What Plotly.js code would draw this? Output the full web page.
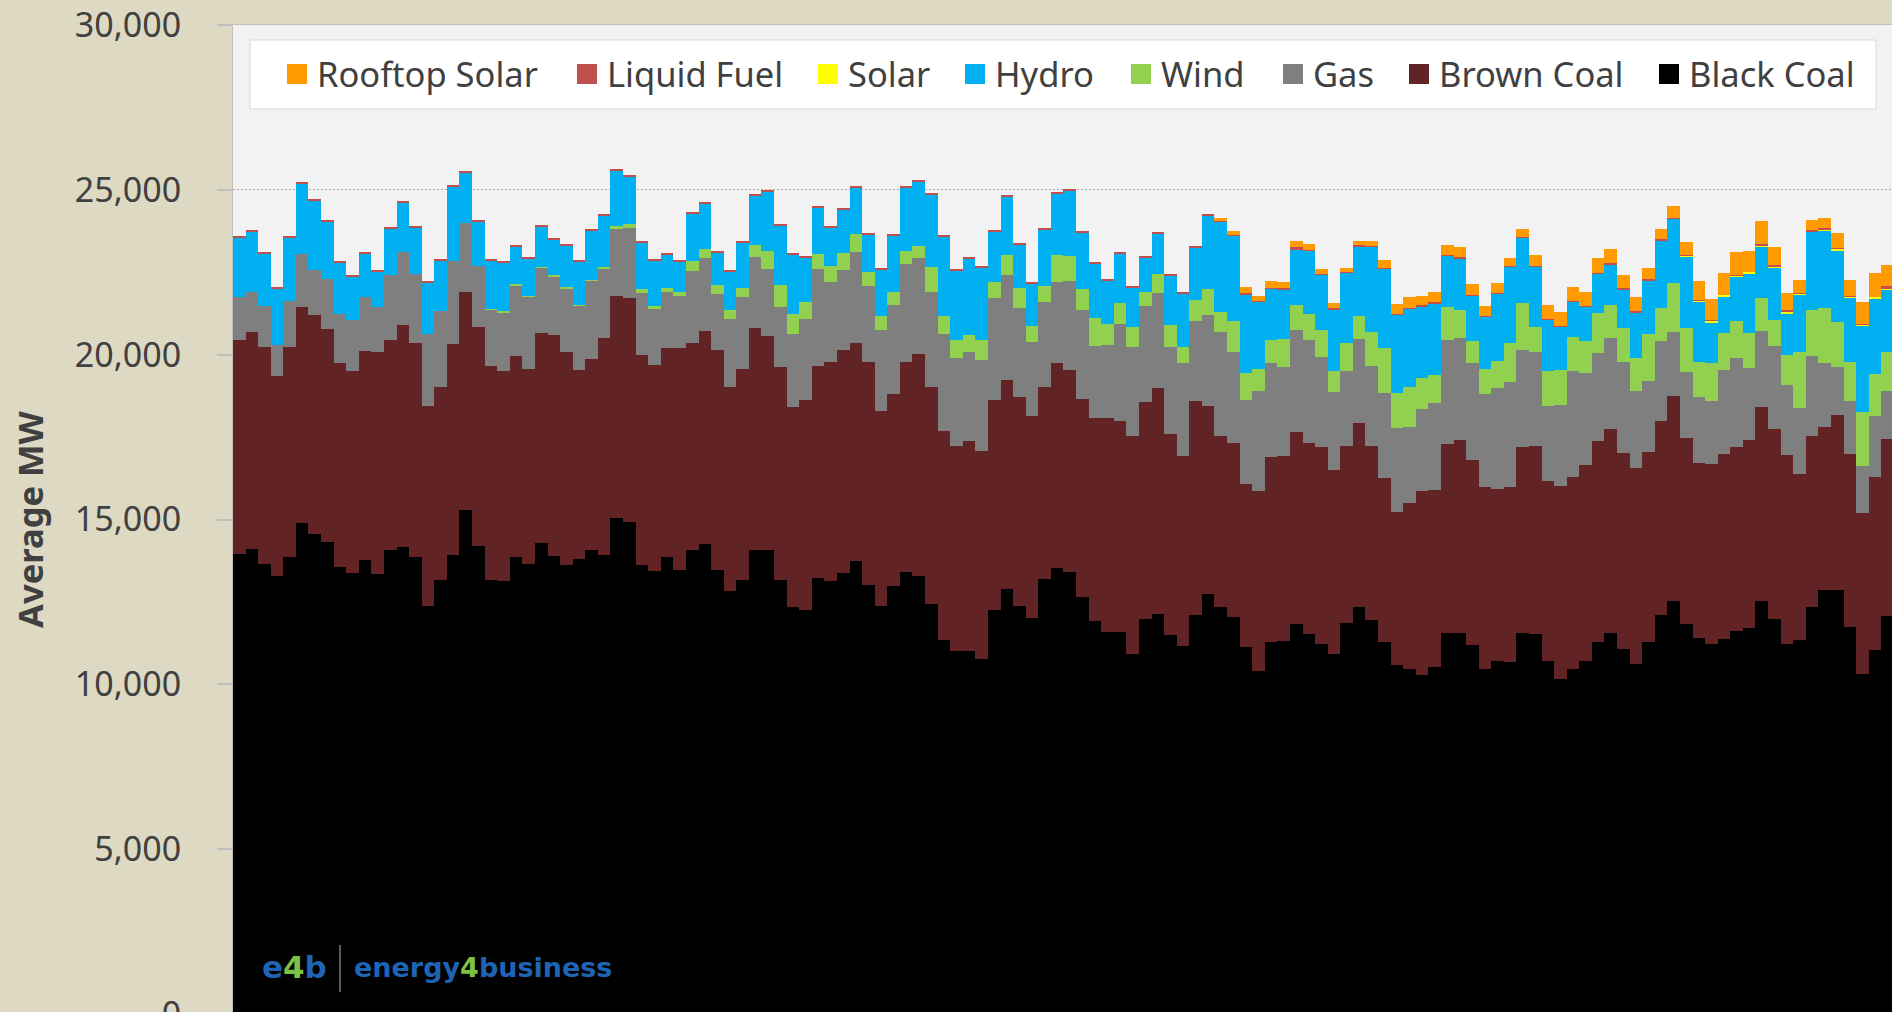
<!DOCTYPE html>
<html>
<head>
<meta charset="utf-8">
<script src="https://cdn.plot.ly/plotly-3.0.1.min.js"></script>
<style>
html,body{margin:0;padding:0;background:#DDD9C3;overflow:hidden;width:1892px;height:1012px}
#chart{width:1892px;height:1014px}
</style>
</head>
<body>
<div id="chart"></div>
<script>
// ---------- categories (monthly, Jan 2006 - Dec 2016) ----------
const years = [2006,2007,2008,2009,2010,2011,2012,2013,2014,2015,2016];
const monthNames = ['Jan','Feb','Mar','Apr','May','Jun','Jul','Aug','Sep','Oct','Nov','Dec'];
const months = [];
years.forEach(y => monthNames.forEach(m => months.push(m + ' ' + y)));

// ---------- series values, average MW ----------
const blackCoal = [
13950,14110,13650,13280,13850,14900,14560,14330,13550,13390,13760,13350,
14060,14180,13850,12390,13150,13910,15280,14190,13150,13130,13870,13650,
14290,13880,13620,13800,14060,13920,15060,14920,13620,13430,13850,13470,
14060,14260,13470,12820,13150,14060,14060,13160,12340,12240,13240,13130,
13390,13730,13010,12370,12980,13420,13290,12440,11340,11020,11020,10780,
12240,12890,12370,12000,13200,13540,13400,12640,11920,11600,11600,10930,
11980,12130,11490,11160,12100,12750,12360,12040,11130,10390,11290,11320,
11830,11530,11220,10930,11860,12360,11940,11270,10580,10470,10280,10540,
11570,11570,11190,10470,10720,10690,11570,11540,10720,10170,10470,10720,
11270,11570,11070,10620,11290,12090,12540,11830,11420,11220,11370,11630,
11720,12540,11980,11220,11330,12340,12850,12850,11750,10320,11030,12060];

const brownCoal = [
6490,6570,6580,6080,6380,6550,6640,6460,6190,6110,6340,6730,
6380,6720,6500,6050,5860,6400,6610,6640,6510,6370,6080,5930,
6380,6730,6460,5730,5820,6580,6720,6800,6380,6270,6340,6720,
6280,6450,6680,6200,6430,6740,6500,6460,6080,6400,6430,6640,
6750,6610,6760,5930,5840,6350,6740,6590,6330,6220,6350,6310,
6400,6340,6350,6150,5830,6200,6150,6030,6150,6490,6380,6600,
6580,6850,6110,5770,6480,5700,5170,5270,4960,5470,5600,5600,
5810,5780,5970,5570,5370,5580,5290,4980,4640,5040,5570,5360,
5730,5840,5620,5510,5210,5290,5630,5690,5440,5850,5810,5930,
6110,6190,5960,5930,5750,5900,6200,5630,5280,5470,5630,5560,
5690,5860,5780,5730,5060,5190,4950,5320,5250,4890,5260,5390];

const gas = [
1300,1210,1250,940,1390,1590,1370,1510,1500,1550,1650,1380,
1980,2200,2110,2190,2310,2540,2090,1850,1710,1790,2150,2190,
1980,1770,1940,1950,2360,2120,2030,2120,1860,1680,1720,1600,
2200,2210,1690,2050,2170,2170,2050,1830,2200,2430,2920,2440,
2440,2780,2320,2440,2700,2970,2890,2880,2950,2670,2710,2760,
3080,3200,2690,2240,2580,2470,2670,2700,2190,2210,2960,2710,
2930,2880,2630,2820,2440,2760,3150,2780,2550,3040,2870,2710,
3110,3140,2740,2360,2280,2550,2430,2580,2550,2310,2510,2620,
3150,3090,2940,2840,3050,3190,2950,2850,2290,2460,3220,2790,
2660,2740,2740,2360,2170,2430,1960,2020,2020,1900,2540,2700,
2180,2310,2500,2140,1980,2430,1940,1460,1590,1420,1860,1440];

const wind = [
0,0,0,0,0,0,0,0,0,0,0,0,
0,0,0,0,0,0,0,0,20,20,30,20,
20,50,30,30,30,50,100,110,140,100,100,100,
290,300,280,290,260,360,520,660,600,530,460,480,
490,530,410,440,380,390,370,750,550,550,520,600,
490,600,600,480,480,820,780,610,850,640,640,600,
410,600,660,490,650,790,610,930,790,680,680,860,
760,770,810,630,830,680,1020,1370,1080,1190,920,870,
990,860,660,760,820,1170,1410,760,1050,1050,1030,980,
1210,1010,1030,990,1410,1000,1460,1330,1050,1150,1110,1130,
1080,1000,800,900,1720,1400,1670,1360,1180,1630,1250,1190];

const hydro = [
1800,1850,1590,1700,1940,2160,2120,1750,1560,1320,1320,1070,
1410,1520,1410,1550,1540,2240,1550,1360,1460,1490,1140,1140,
1220,1050,1250,1320,1510,1560,1670,1440,1410,1390,1020,950,
1450,1370,990,1170,1400,1490,1820,1800,1810,1340,1410,1180,
1320,1420,1140,1390,1710,1930,1970,2200,2400,2080,2330,2180,
1540,1760,1320,1290,1710,1860,1970,1730,1670,1310,1490,1210,
1060,1210,1520,1630,1590,2230,2740,2580,2410,2030,1560,1500,
1680,1930,1690,1890,2140,2120,2600,2400,2360,2380,2190,2170,
1560,1570,1380,1570,2050,2330,1980,1830,1560,1310,1070,1040,
1200,1240,1180,1370,1640,2050,1970,2170,1830,1250,1120,1340,
1800,1560,1570,1270,1720,2370,2350,2170,1950,2620,2300,1910];

const solar = [
0,0,0,0,0,0,0,0,0,0,0,0,
0,0,0,0,0,0,0,0,0,0,0,0,
0,0,0,0,0,0,0,0,0,0,0,0,
0,0,0,0,0,0,0,0,0,0,0,0,
0,0,0,0,0,0,0,0,0,0,0,0,
0,0,0,0,0,0,0,0,0,0,0,0,
0,0,0,0,0,0,0,0,0,0,0,0,
0,0,0,0,0,0,0,0,0,0,0,0,
0,0,0,0,0,0,0,0,0,0,0,0,
0,0,0,0,0,0,0,40,40,40,40,50,
40,40,50,50,40,20,30,60,50,50,50,30];

const liquidFuel = [
30,30,30,30,30,30,30,30,30,30,30,30,
30,30,30,30,30,30,30,30,30,30,30,30,
30,30,30,30,30,30,30,30,30,30,30,30,
30,30,30,30,30,30,30,30,30,30,30,30,
30,30,30,30,30,30,30,30,30,30,30,30,
30,30,30,30,30,30,30,30,30,30,30,30,
30,30,30,30,30,30,30,30,30,30,30,30,
70,30,30,30,30,50,30,30,30,30,30,30,
30,30,30,30,30,30,30,30,30,30,30,30,
40,40,40,40,30,30,30,10,10,10,10,10,
10,50,30,60,10,40,50,10,10,10,10,50];

const rooftopSolar = [
0,0,0,0,0,0,0,0,0,0,0,0,
0,0,0,0,0,0,0,0,0,0,0,0,
0,0,0,0,0,0,0,0,0,0,0,0,
0,0,0,0,0,0,0,0,0,0,0,0,
0,0,0,0,0,0,0,0,0,0,0,0,
0,0,0,0,0,0,0,0,0,0,0,0,
0,0,0,0,0,0,80,130,190,140,200,190,
180,170,150,150,110,100,140,230,310,320,280,320,
310,320,320,300,280,230,230,310,430,410,430,410,
450,410,410,430,350,310,350,390,580,650,670,690,
630,680,570,490,420,280,310,470,500,660,730,660];

// ---------- series order (stack bottom -> top) ----------
const seriesNames = ['Black Coal','Brown Coal','Gas','Wind','Hydro','Solar','Liquid Fuel','Rooftop Solar'];
const seriesData  = [blackCoal, brownCoal, gas, wind, hydro, solar, liquidFuel, rooftopSolar];
const yTickVals = [0,5000,10000,15000,20000,25000,30000];

// ---------- styles ----------
const seriesColors = ['#000000','#612323','#7F7F7F','#92D050','#00B0F0','#FFFF00','#C0504D','#FF9A00'];
const W = 1892, H = 1014, ML = 233, MT = 25, MR = 0, MB = 0;
const PW = W - ML - MR, PH = H - MT - MB;
const fx = px => (px - ML) / PW;
const fy = py => (H - MB - py) / PH;
const textColor = '#404040';
const mainFont = 'Noto Sans, Open Sans, sans-serif';

const traces = seriesNames.map((name, i) => ({
  type: 'bar',
  name: name,
  x: months,
  y: seriesData[i],
  marker: {color: seriesColors[i], line: {width: 0}},
  showlegend: false,
  hovertemplate: '%{x}<br>' + name + ': %{y:,} MW<extra></extra>'
}));

// ---------- hand-placed legend (top to bottom of stack, left to right) ----------
const legendOrder = [7,6,5,4,3,2,1,0];
const legendSquareLeftPx = [287,577,818,965,1131,1283,1409,1659];
const legendBox = {x0: 250, x1: 1876, y0: 40, y1: 109};
const legendMidY = 74, legendSq = 20;

const shapes = [{
  type: 'rect', xref: 'paper', yref: 'paper', layer: 'above',
  x0: fx(legendBox.x0), x1: fx(legendBox.x1), y0: fy(legendBox.y1), y1: fy(legendBox.y0),
  fillcolor: '#FFFFFF', line: {color: '#D9D9D9', width: 1}
}];
const annotations = [];
legendOrder.forEach((si, k) => {
  const left = legendSquareLeftPx[k];
  shapes.push({
    type: 'rect', xref: 'paper', yref: 'paper', layer: 'above',
    x0: fx(left), x1: fx(left + legendSq),
    y0: fy(legendMidY + legendSq / 2), y1: fy(legendMidY - legendSq / 2),
    fillcolor: seriesColors[si], line: {width: 0}
  });
  annotations.push({
    xref: 'paper', yref: 'paper', x: fx(left + legendSq + 8), y: fy(legendMidY),
    xanchor: 'left', yanchor: 'middle', showarrow: false,
    text: seriesNames[si], font: {family: mainFont, size: 34.5, color: textColor}
  });
});

// ---------- watermark ----------
const logoBlue = '#1F64B4', logoGreen = '#7DC242';
annotations.push({
  xref: 'paper', yref: 'paper', x: fx(260), y: fy(967), xanchor: 'left', yanchor: 'middle', showarrow: false,
  text: 'e<span style="color:' + logoGreen + '">4</span>b',
  font: {family: 'DejaVu Sans, sans-serif', size: 31, color: logoBlue, weight: 'bold'}
});
annotations.push({
  xref: 'paper', yref: 'paper', x: fx(352), y: fy(967), xanchor: 'left', yanchor: 'middle', showarrow: false,
  text: 'energy<span style="color:' + logoGreen + '">4</span>business',
  font: {family: 'DejaVu Sans, sans-serif', size: 27, color: logoBlue, weight: 'bold'}
});
shapes.push({
  type: 'line', xref: 'paper', yref: 'paper', layer: 'above',
  x0: fx(340), x1: fx(340), y0: fy(992), y1: fy(945),
  line: {color: '#5A5A5A', width: 2}
});

const layout = {
  width: W, height: H,
  margin: {l: ML, r: MR, t: MT, b: MB, pad: 0},
  paper_bgcolor: '#DDD9C3',
  plot_bgcolor: '#F2F2F2',
  barmode: 'stack',
  bargap: 0,
  showlegend: false,
  xaxis: {
    type: 'category',
    range: [-0.5, 131.35],
    showticklabels: false, ticks: '', showgrid: false, zeroline: false,
    showline: true, mirror: true, linecolor: '#BFBFBF', linewidth: 1
  },
  yaxis: {
    range: [0, 30000],
    tickvals: yTickVals,
    tickformat: ',d',
    ticks: 'outside', ticklen: 15, tickwidth: 1.5, tickcolor: '#BFBFBF',
    ticklabelstandoff: 29,
    ticklabeloverflow: 'allow',
    tickfont: {family: mainFont, size: 34, color: textColor},
    showgrid: true, gridcolor: '#ABABAB', gridwidth: 1, griddash: '2px,2px',
    zeroline: false,
    showline: true, linecolor: '#BFBFBF', linewidth: 1,
    automargin: false,
    title: {text: 'Average MW', standoff: 20,
            font: {family: mainFont, size: 34.5, color: textColor, weight: 'bold'}}
  },
  shapes: shapes,
  annotations: annotations
};

Plotly.newPlot('chart', traces, layout, {displayModeBar: false, responsive: false});
</script>
</body>
</html>
